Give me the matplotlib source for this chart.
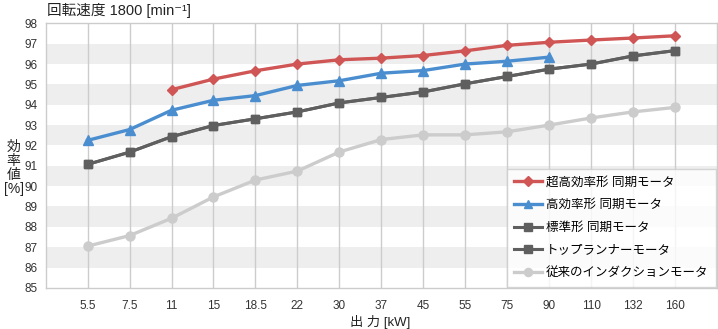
import matplotlib
matplotlib.use("Agg")
import matplotlib.pyplot as plt

plt.rcParams['font.family'] = ['Liberation Sans', 'Noto Sans CJK JP', 'DejaVu Sans']

outputs = ["5.5", "7.5", "11", "15", "18.5", "22", "30", "37", "45", "55", "75", "90", "110", "132", "160"]

super_sync = [None, None, 94.74, 95.26, 95.67, 96.0, 96.21, 96.29, 96.42, 96.65, 96.92, 97.07, 97.18, 97.28, 97.39]
high_sync = [92.25, 92.78, 93.73, 94.22, 94.45, 94.95, 95.18, 95.55, 95.68, 96.0, 96.14, 96.34]
std_sync = [91.07, 91.67, 92.43, 92.98, 93.31, 93.65, 94.09, 94.36, 94.63, 95.03, 95.39, 95.75, 96.0, 96.4, 96.66]
top_runner = [91.07, 91.67, 92.43, 92.98, 93.31, 93.65, 94.09, 94.36, 94.63, 95.03, 95.39, 95.75, 96.0, 96.4, 96.66]
induction = [87.05, 87.57, 88.42, 89.47, 90.3, 90.74, 91.68, 92.29, 92.52, 92.52, 92.67, 93.0, 93.35, 93.65, 93.87]

names = ["超高効率形 同期モータ", "高効率形 同期モータ", "標準形 同期モータ", "トップランナーモータ", "従来のインダクションモータ"]

fig = plt.figure(figsize=(7.18, 3.29), dpi=100)
ax = fig.add_axes([0.0636, 0.125, 0.935, 0.804])

# grey bands
for lo in range(86, 98, 2):
    ax.axhspan(lo, lo + 1, color="#eeeeee", zorder=0, lw=0)
for i in range(len(outputs)):
    ax.axvline(i, color="#cccccc", lw=1, zorder=1)

x = list(range(len(outputs)))
sx = [i for i, v in enumerate(super_sync) if v is not None]
sv = [v for v in super_sync if v is not None]

ax.plot(x, induction, color="#cccccc", marker="o", ms=6.5, lw=2.4, label=names[4], zorder=3)
ax.plot(x, std_sync, color="#5f5f5f", marker="s", ms=6, lw=2.2, label=names[2], zorder=4)
ax.plot(x, top_runner, color="#5f5f5f", marker="s", ms=6, lw=2.2, label=names[3], zorder=4)
ax.plot(x[:len(high_sync)], high_sync, color="#4a8ed0", marker="^", ms=7, lw=2.4, label=names[1], zorder=5)
ax.plot(sx, sv, color="#d05555", marker="D", ms=5.5, lw=2.4, label=names[0], zorder=6)

ax.set_xlim(-1, 15)
ax.set_ylim(85, 98)
ax.set_yticks(range(85, 99))
ax.set_xticks(x)
ax.set_xticklabels(outputs)
ax.tick_params(length=0, labelsize=8.5, colors="#333333")
ax.tick_params(axis="x", pad=9)
ax.tick_params(axis="y", pad=6)
for s in ax.spines.values():
    s.set_color("#cccccc")
    s.set_linewidth(1)

handles, labels = ax.get_legend_handles_labels()
order = [4, 3, 1, 2, 0]
leg = ax.legend([handles[i] for i in order], [labels[i] for i in order],
                loc="lower right", bbox_to_anchor=(1.0, 0.0), fontsize=9,
                frameon=True, fancybox=False, edgecolor="#cccccc",
                handlelength=2.2, handletextpad=0.3, labelspacing=0.85,
                borderpad=0.6, borderaxespad=0.1, markerscale=0.9)
leg.get_frame().set_linewidth(1)
leg.set_zorder(10)

fig.text(0.065, 0.968, "回転速度 1800 [min⁻¹]", fontsize=10.5,
         ha="left", va="center", color="#222222")
fig.text(0.019, 0.49, "効\n率\n値\n[%]", fontsize=10, ha="center", va="center",
         color="#222222", linespacing=1.0)
fig.text(0.53, 0.02, "出 力 [kW]", fontsize=9.5, ha="center", va="center", color="#222222")

fig.savefig("out.png", dpi=100)
